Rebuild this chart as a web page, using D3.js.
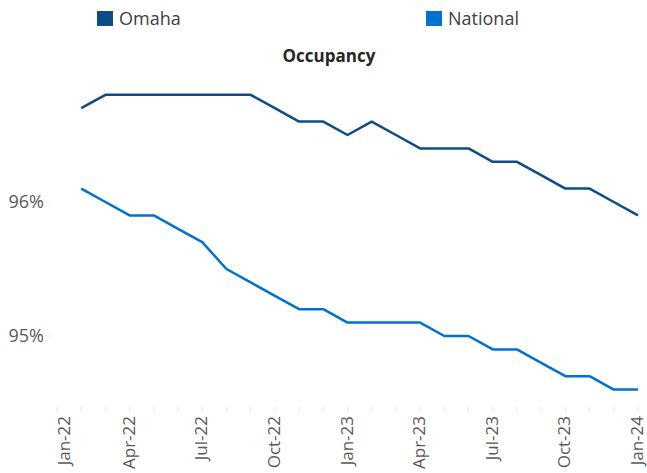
<!DOCTYPE html>
<html>
<head>
<meta charset="utf-8">
<script src="https://cdn.jsdelivr.net/npm/d3@7"></script>
<style>
  body { margin: 0; background: #fff; }
  #container { width: 647px; height: 473px; }
  text { font-family: "Open Sans", "DejaVu Sans", sans-serif; }
</style>
</head>
<body>
<div id="container"></div>
<script>
const width = 647;
const height = 473;

// month categories on the axis, Jan-22 .. Jan-24
const months = ["Jan-22","Feb-22","Mar-22","Apr-22","May-22","Jun-22","Jul-22","Aug-22","Sep-22","Oct-22","Nov-22","Dec-22",
  "Jan-23","Feb-23","Mar-23","Apr-23","May-23","Jun-23","Jul-23","Aug-23","Sep-23","Oct-23","Nov-23","Dec-23","Jan-24"];
const tickLabels = ["Jan-22","Apr-22","Jul-22","Oct-22","Jan-23","Apr-23","Jul-23","Oct-23","Jan-24"];
const yTicks = [95, 96];

// data runs Feb-22 .. Jan-24
const dataMonths = months.slice(1);
const omaha = [96.7,96.8,96.8,96.8,96.8,96.8,96.8,96.8,96.7,96.6,96.6,96.5,
  96.6,96.5,96.4,96.4,96.4,96.3,96.3,96.2,96.1,96.1,96.0,95.9];
const national = [96.1,96.0,95.9,95.9,95.8,95.7,95.5,95.4,95.3,95.2,95.2,95.1,
  95.1,95.1,95.1,95.0,95.0,94.9,94.9,94.8,94.7,94.7,94.6,94.6];

const seriesNames = ["Omaha", "National"];
const colors = ["#0D4C86", "#0071CE"];

const svg = d3.create("svg")
    .attr("width", width)
    .attr("height", height)
    .attr("xmlns", "http://www.w3.org/2000/svg");

const x = d3.scalePoint().domain(months).range([57, 638]);
const y = d3.scaleLinear().domain([94.5, 97]).range([403, 68]);

// title
svg.append("text")
    .attr("x", 329).attr("y", 62)
    .attr("text-anchor", "middle")
    .attr("font-size", 17).attr("font-weight", "bold")
    .attr("fill", "#262626")
    .text("Occupancy");

// legend
const legendX = [97, 426];
seriesNames.forEach((name, i) => {
    const lg = svg.append("g").attr("transform", `translate(${legendX[i]},11)`);
    lg.append("rect").attr("width", 16).attr("height", 15).attr("fill", colors[i]);
    lg.append("text").attr("x", 22).attr("y", 14)
        .attr("font-size", 18).attr("fill", "#404040").text(name);
});

// y axis labels + faint ticks
const yAxis = svg.append("g");
yTicks.forEach(t => {
    yAxis.append("line").attr("x1", 46).attr("x2", 52)
        .attr("y1", y(t)).attr("y2", y(t)).attr("stroke", "#ececec");
    yAxis.append("text").attr("x", 44).attr("y", y(t))
        .attr("dy", "0.35em").attr("text-anchor", "end")
        .attr("font-size", 18).attr("fill", "#595959")
        .text(t + "%");
});

// x axis: faint month ticks, rotated labels every quarter
const xAxis = svg.append("g");
xAxis.selectAll("line").data(months).join("line")
    .attr("x1", d => x(d)).attr("x2", d => x(d))
    .attr("y1", 407).attr("y2", 412)
    .attr("stroke", "#e8e8e8");
xAxis.selectAll("text").data(tickLabels).join("text")
    .attr("transform", (d, i) => `translate(${x(d) + (i === 0 ? 8 : 0)},416) rotate(-90)`)
    .attr("dy", "0.3em")
    .attr("text-anchor", "end")
    .attr("font-size", 17).attr("fill", "#595959")
    .text(d => d);

const line = d3.line()
    .x((d, i) => x(dataMonths[i]))
    .y(d => y(d));

[omaha, national].forEach((vals, i) => {
    svg.append("path")
        .datum(vals)
        .attr("d", line)
        .attr("fill", "none")
        .attr("stroke", colors[i])
        .attr("stroke-width", 2.5)
        .attr("stroke-linejoin", "round");
});

document.getElementById("container").append(svg.node());
</script>
</body>
</html>
